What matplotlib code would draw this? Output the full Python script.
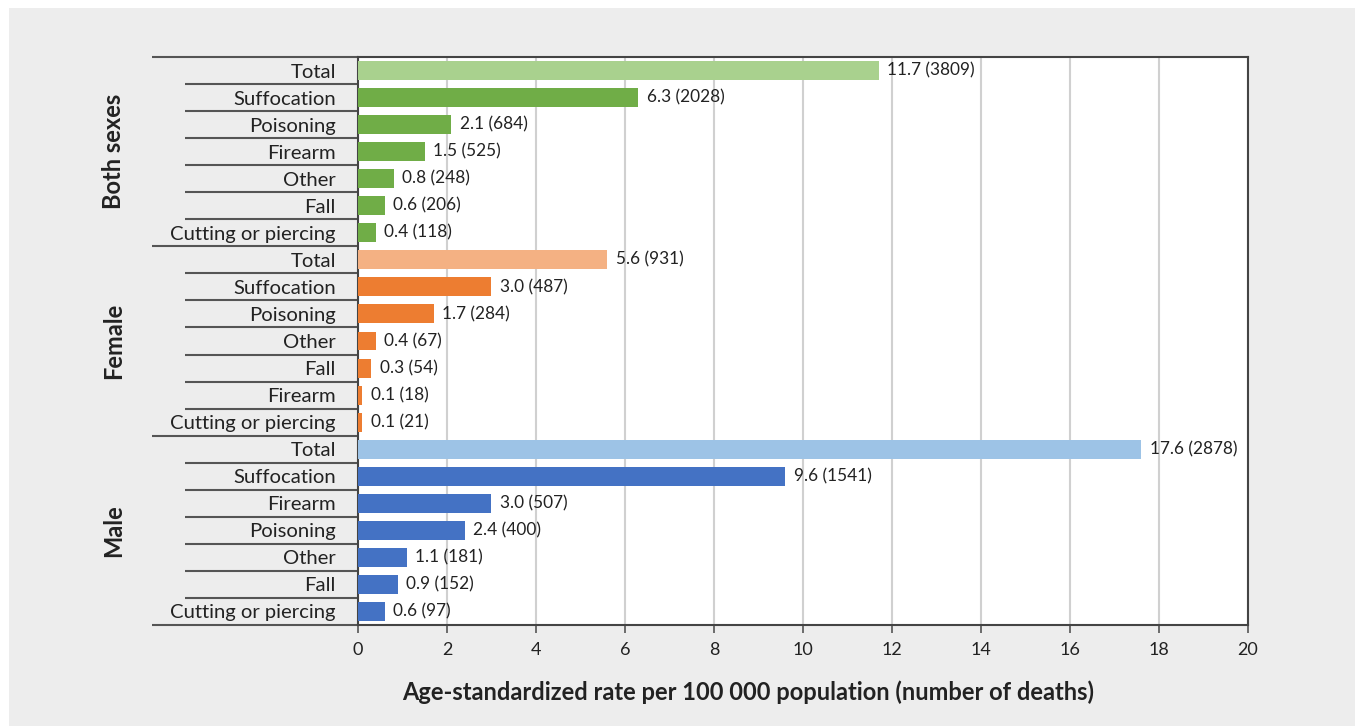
import matplotlib.pyplot as plt
import matplotlib.transforms as mtransforms
from matplotlib.patches import Rectangle
import numpy as np

plt.rcParams['font.family'] = ['Lato', 'DejaVu Sans']

groups = ['Both sexes', 'Female', 'Male']
causes_both = ['Total', 'Suffocation', 'Poisoning', 'Firearm', 'Other', 'Fall', 'Cutting or piercing']
rates_both = [11.7, 6.3, 2.1, 1.5, 0.8, 0.6, 0.4]
deaths_both = [3809, 2028, 684, 525, 248, 206, 118]

causes_female = ['Total', 'Suffocation', 'Poisoning', 'Other', 'Fall', 'Firearm', 'Cutting or piercing']
rates_female = [5.6, 3.0, 1.7, 0.4, 0.3, 0.1, 0.1]
deaths_female = [931, 487, 284, 67, 54, 18, 21]

causes_male = ['Total', 'Suffocation', 'Firearm', 'Poisoning', 'Other', 'Fall', 'Cutting or piercing']
rates_male = [17.6, 9.6, 3.0, 2.4, 1.1, 0.9, 0.6]
deaths_male = [2878, 1541, 507, 400, 181, 152, 97]

light_colors = ['#a9d18e', '#f4b183', '#9dc3e6']
dark_colors = ['#70ad47', '#ed7d31', '#4472c4']

xlabel = 'Age-standardized rate per 100 000 population (number of deaths)'

all_causes = [causes_both, causes_female, causes_male]
all_rates = [rates_both, rates_female, rates_male]
all_deaths = [deaths_both, deaths_female, deaths_male]

fig = plt.figure(figsize=(13.55, 7.26), dpi=100)
fig.patches.append(Rectangle((9 / 1355, 0), 1, 1 - 8 / 726, transform=fig.transFigure,
                             facecolor='#ededed', edgecolor='none', zorder=-10))
ax = fig.add_axes([358 / 1355, 1 - 625 / 726, 890 / 1355, 568 / 726])
ax.set_facecolor('white')

labels = []
colors = []
rates = []
deaths = []
for g in range(3):
    for k in range(len(all_causes[g])):
        labels.append(all_causes[g][k])
        rates.append(all_rates[g][k])
        deaths.append(all_deaths[g][k])
        colors.append(light_colors[g] if k == 0 else dark_colors[g])

y = np.arange(len(labels))
ax.barh(y, rates, height=0.7, color=colors, zorder=3)
for yi, r, d in zip(y, rates, deaths):
    ax.annotate(f'{r:.1f} ({d})', (r, yi), xytext=(6, 0), textcoords='offset points',
                va='center', ha='left', fontsize=12.4, color='#222222', zorder=4)

ax.set_xlim(0, 20)
ax.set_ylim(len(labels) - 0.5, -0.5)
ax.set_xticks(np.arange(0, 21, 2))
ax.set_yticks(y)
ax.set_yticklabels(labels, fontsize=14.6, color='#222222')
ax.tick_params(axis='y', length=0, pad=16)
ax.tick_params(axis='x', length=6, width=1.2, color='#555555', labelsize=13,
               labelcolor='#222222', pad=6)
ax.grid(axis='x', color='#d0d0d0', linewidth=1.5, zorder=0)
ax.set_axisbelow(True)
for s in ax.spines.values():
    s.set_color('#444444')
    s.set_linewidth(1.5)

ax.set_xlabel(xlabel, fontsize=17, fontweight='bold', color='#222222')
ax.xaxis.set_label_coords(0.438, -0.097)

# separator lines on the category side
trans = mtransforms.blended_transform_factory(ax.transAxes, ax.transData)
n = len(labels)
for b in range(n + 1):
    yb = b - 0.5
    x0 = -0.2315 if b % 7 == 0 else -0.1944
    ax.plot([x0, 0], [yb, yb], transform=trans, color='#555555', linewidth=1.5,
            clip_on=False, solid_capstyle='butt')

for g, name in enumerate(groups):
    ax.text(-0.2742, g * 7 + 3, name, transform=trans, rotation=90, ha='center',
            va='center', fontsize=17, fontweight='bold', color='#222222')

fig.savefig('out.png', dpi=100)
